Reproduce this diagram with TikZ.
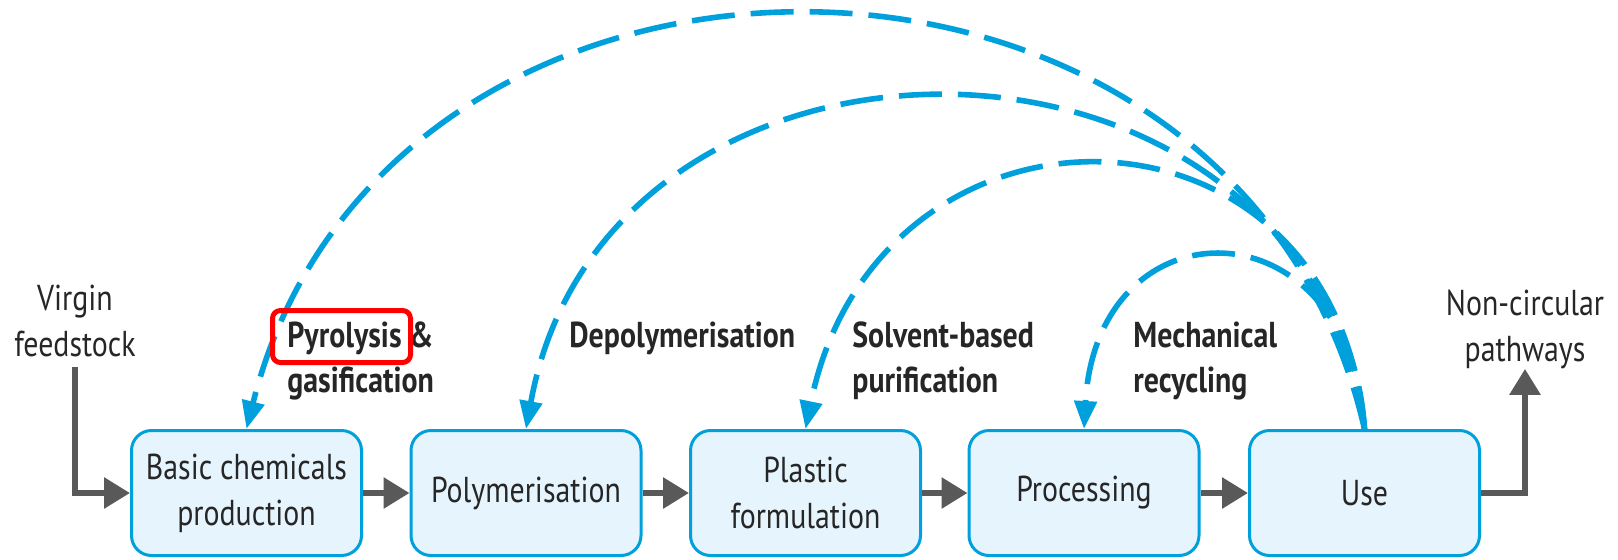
\documentclass[tikz,border=0pt]{standalone}
\usepackage{fontspec}
\setmainfont{PT Sans}[FakeStretch=0.83]
\usetikzlibrary{arrows.meta}

\definecolor{flowblue}{RGB}{0,160,220}
\definecolor{boxfill}{RGB}{230,244,253}
\definecolor{flowgrey}{RGB}{89,89,89}
\definecolor{inkgrey}{RGB}{38,38,38}

\tikzset{
  stage/.style={draw=flowblue, fill=boxfill, line width=1.5pt, rounded corners=10pt,
    minimum width=115pt, minimum height=62.5pt, align=center, text=inkgrey,
    font=\fontsize{18}{23}\selectfont},
  plain label/.style={inner sep=0pt, align=center, text=inkgrey,
    font=\fontsize{18}{23}\selectfont},
  route label/.style={inner sep=0pt, anchor=west, align=left, text=inkgrey,
    font=\fontsize{18}{22.5}\selectfont\bfseries},
  flow/.style={draw=flowgrey, line width=3pt, -{Triangle[length=13pt,width=15pt]}},
  loopback/.style={draw=flowblue, line width=2.8pt, dash pattern=on 21.5pt off 8pt,
    -{Triangle[length=14pt,width=11pt]}},
  hilite/.style={draw=red, line width=2.5pt, rounded corners=4pt}
}

\begin{document}
\begin{tikzpicture}[x=0.5pt,y=0.5pt,yscale=-1]
  \useasboundingbox (0,0) rectangle (1618,559);

  % value chain
  \node[stage] (bcp)  at (246.5,493) {Basic chemicals\\production};
  \node[stage] (poly) at (526,493)   {Polymerisation};
  \node[stage] (form) at (805.5,493) {Plastic\\formulation};
  \node[stage] (proc) at (1084,493)  {Processing};
  \node[stage] (use)  at (1364.5,493) {Use};

  % inputs and outputs
  \node[plain label] (virgin)   at (75,321)   {Virgin\\feedstock};
  \node[plain label] (noncirc)  at (1525,329) {Non-circular\\pathways};

  \draw[flow] (virgin.south) ++(0,10) |- (bcp.west);
  \draw[flow] (bcp) -- (poly);
  \draw[flow] (poly) -- (form);
  \draw[flow] (form) -- (proc);
  \draw[flow] (proc) -- (use);
  \draw[flow] (use.east) -| (noncirc.south);

  % recycling routes back from use
  \draw[loopback] (use.north) .. controls (1238,-123) and (385,-123) .. (bcp.north);
  \draw[loopback] (use.north) .. controls (1297,-13) and (606,-13) .. (poly.north);
  \draw[loopback] (use.north) .. controls (1333,77) and (877,77) .. (form.north);
  \draw[loopback] (use.north) .. controls (1350,199) and (1097,199) .. (proc.north);

  \node[route label] (pyro)  at (287,361)  {Pyrolysis \&\\gasification};
  \node[route label] (depol) at (569,338.5) {Depolymerisation};
  \node[route label] (solv)  at (852,361)  {Solvent-based\\purification};
  \node[route label] (mech)  at (1133,361) {Mechanical\\recycling};

  \draw[hilite] (272.5,310.5) rectangle (410.5,362.5);
\end{tikzpicture}
\end{document}
